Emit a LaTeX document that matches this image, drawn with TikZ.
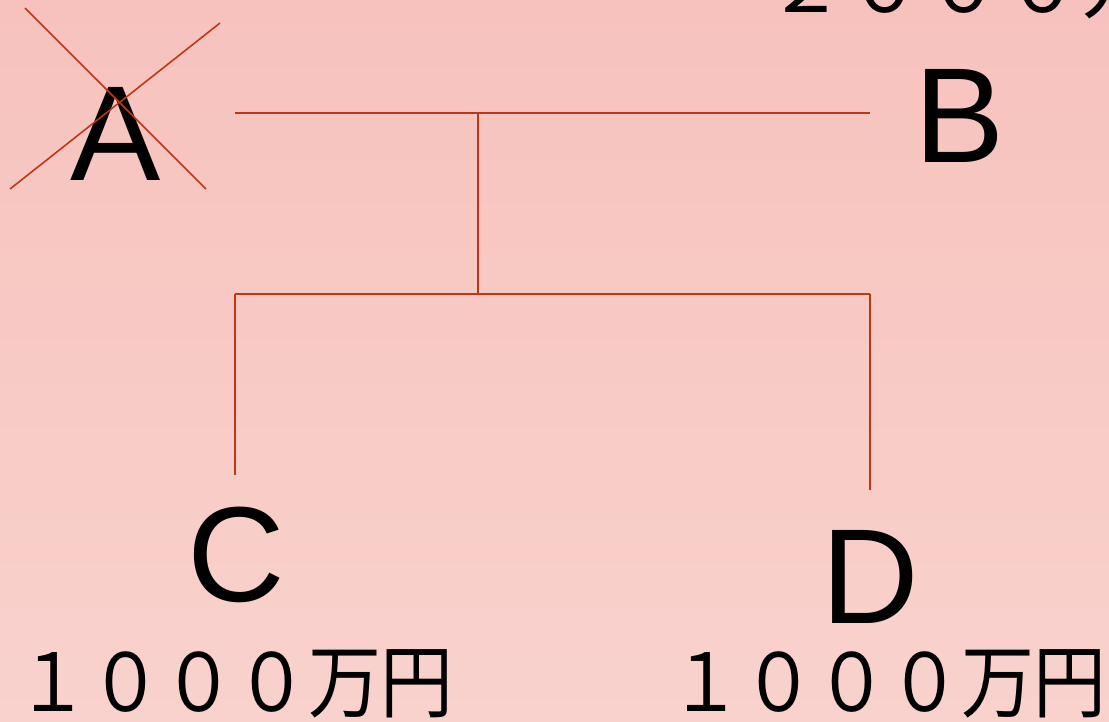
\documentclass[tikz,border=0pt]{standalone}
\usepackage{fontspec}
\setmainfont{Liberation Sans}
\newfontfamily\jpfont{Noto Sans CJK JP}
\definecolor{bgtop}{RGB}{247,194,189}
\definecolor{bgbot}{RGB}{249,210,205}
\definecolor{linered}{RGB}{188,55,20}
\begin{document}
\begin{tikzpicture}[x=0.02cm,y=-0.02cm]
  \useasboundingbox (0,0) rectangle (1109,721);
  \clip (0,0) rectangle (1109,721);
  \shade[top color=bgtop,bottom color=bgbot] (0,0) rectangle (1109,721);
  % people
  \begin{scope}[every node/.style={inner sep=0pt,anchor=base,font=\fontsize{77}{80}\selectfont}]
    \node (a) at (116,180) {A};
    \node (b) at (960,162) {B};
    \node (c) at (236,601) {C};
    \node (d) at (870,623) {D};
  \end{scope}
  % amounts
  \begin{scope}[every node/.style={inner sep=0pt,anchor=base west,yscale=1.1,transform shape}]
    \node[font=\jpfont\fontsize{41.5}{42}\selectfont] (cmoney) at (16,711) {１０００万円};
    \node[font=\jpfont\fontsize{41.5}{42}\selectfont] (dmoney) at (669,711) {１０００万円};
    \node[font=\jpfont\fontsize{45}{45}\selectfont,yscale=1/1.1] (bmoney) at (766,12) {２０００万円};
  \end{scope}
  % tree points
  \coordinate (abl) at (235,113);
  \coordinate (abr) at (870,113);
  \coordinate (abm) at (478,113);
  \coordinate (cdm) at (478,294);
  \coordinate (cdl) at (235,294);
  \coordinate (cdr) at (870,294);
  \coordinate (ctop) at (235,475);
  \coordinate (dtop) at (870,490);
  \coordinate (x1) at (25,8);
  \coordinate (x2) at (206,189);
  \coordinate (x3) at (220,23);
  \coordinate (x4) at (10,189);
  \begin{scope}[every edge/.style={draw=linered,line width=1.1pt}]
    \path (abl) edge (abr);
    \path (abm) edge (cdm);
    \path (cdl) edge (cdr);
    \path (cdl) edge (ctop);
    \path (cdr) edge (dtop);
  \end{scope}
  \begin{scope}[every edge/.style={draw=linered,line width=0.9pt}]
    \path (x1) edge (x2);
    \path (x3) edge (x4);
  \end{scope}
\end{tikzpicture}
\end{document}
